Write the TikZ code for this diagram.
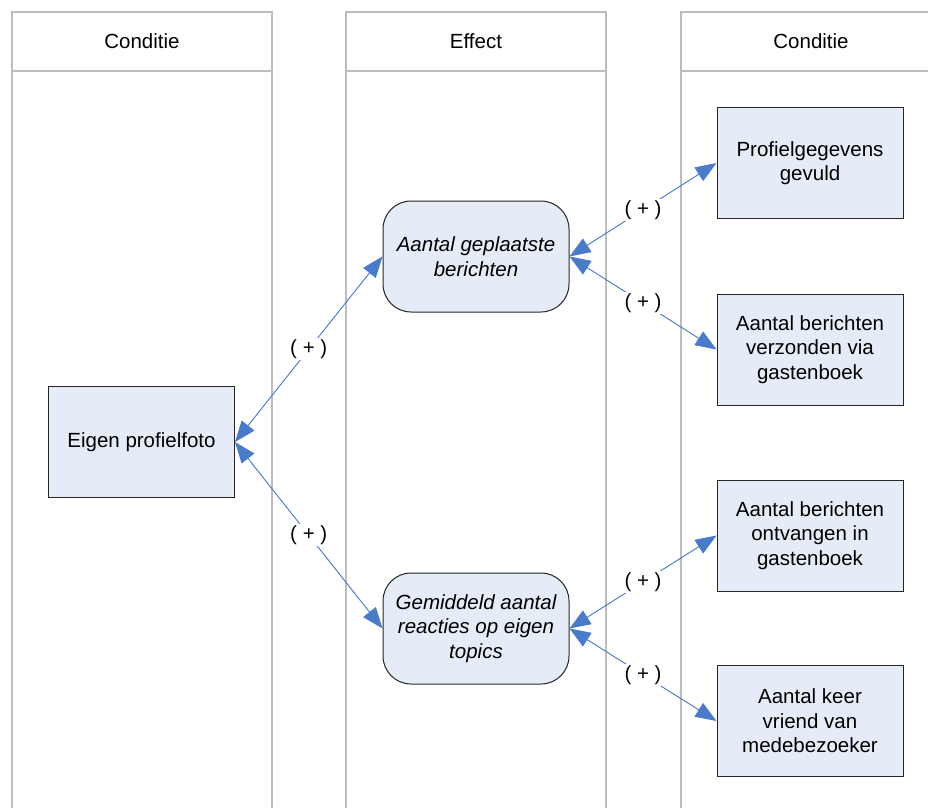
\documentclass[tikz,border=0pt]{standalone}
\usepackage{fontspec}
\setmainfont{Liberation Sans}
\usetikzlibrary{arrows.meta}
\definecolor{boxfill}{HTML}{E6ECF7}
\definecolor{arrowblue}{HTML}{4A7BC8}
\definecolor{lanegray}{HTML}{BDBDBD}
\begin{document}
\begin{tikzpicture}[x=1pt,y=-1pt,
  font=\fontsize{20.5}{24.5}\selectfont,
  lane/.style={draw=lanegray, line width=1.5pt},
  cond/.style={draw=black!85, line width=1pt, fill=boxfill, minimum width=186pt, minimum height=111pt, align=center, inner sep=0pt},
  eff/.style={cond, rounded corners=28pt, font=\fontsize{20.5}{24.5}\selectfont\itshape},
  conn/.style={draw=arrowblue, line width=0.9pt, {Triangle[length=21pt,width=16pt]}-{Triangle[length=21pt,width=16pt]}, fill=arrowblue},
  lbl/.style={fill=white, inner sep=1.5pt, text=black}
]
\clip (0,0) rectangle (928,808);
\fill[white] (0,0) rectangle (928,808);
% lanes
\draw[lane] (12,808) -- (12,12) -- (272,12) -- (272,808);
\draw[lane] (12,71) -- (272,71);
\draw[lane] (346,808) -- (346,12) -- (606,12) -- (606,808);
\draw[lane] (346,71) -- (606,71);
\draw[lane] (681,808) -- (681,12) -- (940,12);
\draw[lane] (681,71) -- (940,71);
\node (h1) at (142,41.5) {Conditie};
\node (h2) at (476,41.5) {Effect};
\node (h3) at (811,41.5) {Conditie};
% boxes
\node[cond] (eigen) at (141.5,442) {Eigen profielfoto};
\node[eff] (aantal) at (476,256.5) {Aantal geplaatste\\berichten};
\node[eff] (gem) at (476,628.5) {Gemiddeld aantal\\reacties op eigen\\topics};
\node[cond] (prof) at (810,163) {Profielgegevens\\gevuld};
\node[cond] (verz) at (810,349.5) {Aantal berichten\\verzonden via\\gastenboek};
\node[cond] (ontv) at (810,535.5) {Aantal berichten\\ontvangen in\\gastenboek};
\node[cond] (vriend) at (810,721) {Aantal keer\\vriend van\\medebezoeker};
% connectors
\draw[conn] (eigen.east) -- node[lbl]{( + )} (aantal.west);
\draw[conn] (eigen.east) -- node[lbl]{( + )} (gem.west);
\draw[conn] (aantal.east) -- node[lbl]{( + )} (prof.west);
\draw[conn] (aantal.east) -- node[lbl]{( + )} (verz.west);
\draw[conn] (gem.east) -- node[lbl]{( + )} (ontv.west);
\draw[conn] (gem.east) -- node[lbl]{( + )} (vriend.west);
\end{tikzpicture}
\end{document}
